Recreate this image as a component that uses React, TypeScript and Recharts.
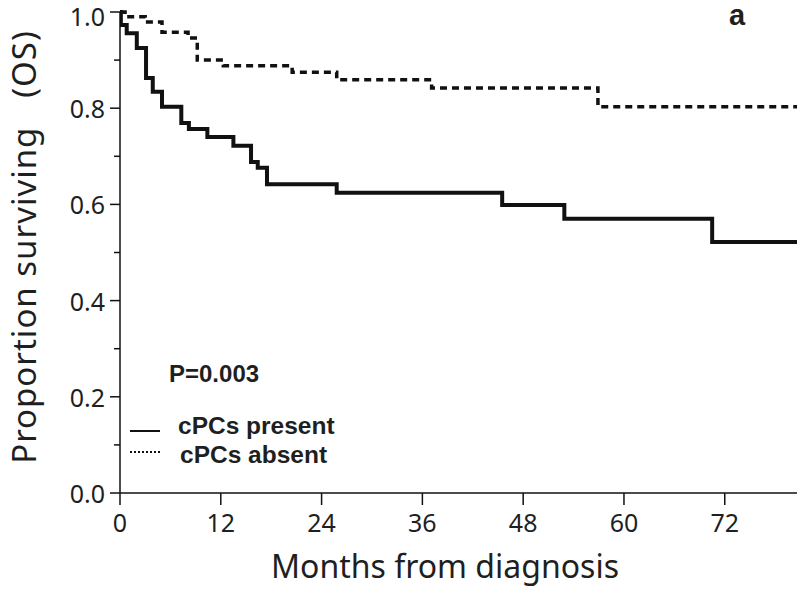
import { LineChart, Line, XAxis, YAxis } from "recharts";

// Kaplan-Meier steps (months, proportion surviving)
const presentMonths = [0, 0.1, 0.8, 2.0, 3.1, 3.9, 5.0, 7.3, 8.2, 10.4, 13.5, 15.6, 16.4, 17.5, 25.8, 45.5, 52.9, 70.5, 80.6];
const presentSurv = [1.0, 0.973, 0.956, 0.925, 0.863, 0.834, 0.803, 0.769, 0.757, 0.74, 0.722, 0.688, 0.676, 0.642, 0.624, 0.599, 0.57, 0.522, 0.522];

const absentMonths = [0, 0.6, 3.0, 5.0, 8.1, 9.2, 12.3, 20.5, 25.8, 37.1, 56.9, 80.6];
const absentSurv = [1.0, 0.99, 0.979, 0.958, 0.946, 0.9, 0.888, 0.875, 0.859, 0.842, 0.803, 0.803];

const xTicks = [0, 12, 24, 36, 48, 60, 72];
const yTicks = [0, 0.1, 0.2, 0.3, 0.4, 0.5, 0.6, 0.7, 0.8, 0.9, 1.0];

const FONT = "'Noto Sans', 'Open Sans', sans-serif";
const BOLD = "'Liberation Sans', Arial, sans-serif";
const INK = "#1f1f1f";

const toPoints = (t: number[], s: number[]) => t.map((m, i) => ({ t: m, s: s[i] }));
const present = toPoints(presentMonths, presentSurv);
const absent = toPoints(absentMonths, absentSurv);

function YTick(props: any) {
  const { x, y, payload } = props;
  const v = payload.value as number;
  const major = Math.round(v * 10) % 2 === 0;
  // top label sits at the very edge of the picture, nudge it in a little
  const ty = v >= 1 ? y + 4 : y;
  return (
    <g>
      <line x1={x - (major ? 10 : 6)} x2={x} y1={y} y2={y} stroke="#111" strokeWidth={1.5} />
      {major && (
        <text x={x - 15} y={ty} textAnchor="end" dominantBaseline="central" fontFamily={FONT} fontSize={25} fill={INK}>
          {v.toFixed(1)}
        </text>
      )}
    </g>
  );
}

export default function App() {
  return (
    <div style={{ position: "absolute", left: 0, top: 0, width: 800, height: 593, background: "#fff" }}>
      <LineChart
        width={800}
        height={593}
        margin={{ top: 12, right: 3, left: 0, bottom: 0 }}
      >
        <XAxis
          type="number"
          dataKey="t"
          domain={[0, 80.6]}
          ticks={xTicks}
          height={100}
          allowDataOverflow
          stroke="#111"
          strokeWidth={1.5}
          tickSize={12}
          tickMargin={9}
          tick={{ fontFamily: FONT, fontSize: 25, fill: INK }}
        />
        <YAxis
          type="number"
          dataKey="s"
          domain={[0, 1]}
          ticks={yTicks}
          width={120}
          stroke="#111"
          strokeWidth={1.5}
          tickLine={false}
          tickSize={0}
          tickMargin={0}
          tick={<YTick />}
          interval={0}
        />
        <Line
          data={present}
          dataKey="s"
          type="stepAfter"
          stroke="#111"
          strokeWidth={4}
          dot={false}
          isAnimationActive={false}
        />
        <Line
          data={absent}
          dataKey="s"
          type="stepAfter"
          stroke="#111"
          strokeWidth={3.5}
          strokeDasharray="7 5"
          dot={false}
          isAnimationActive={false}
        />
      </LineChart>

      <div style={{ position: "absolute", left: 0, top: 0, width: 800, height: 593, pointerEvents: "none", color: INK }}>
        <div
          style={{
            position: "absolute",
            left: 23,
            top: 247,
            transform: "translate(-50%, -50%) rotate(-90deg)",
            whiteSpace: "nowrap",
            fontFamily: FONT,
            fontSize: 33,
            letterSpacing: 1,
            lineHeight: 1,
          }}
        >
          Proportion surviving&nbsp;&nbsp;&nbsp;(OS)
        </div>
        <div
          style={{
            position: "absolute",
            left: 445,
            top: 566,
            transform: "translate(-50%, -50%)",
            whiteSpace: "nowrap",
            fontFamily: FONT,
            fontSize: 32,
            lineHeight: 1,
          }}
        >
          Months from diagnosis
        </div>
        <div style={{ position: "absolute", left: 729, top: 1, fontFamily: BOLD, fontWeight: "bold", fontSize: 29, lineHeight: 1 }}>
          a
        </div>
        <div style={{ position: "absolute", left: 169, top: 362, fontFamily: BOLD, fontWeight: "bold", fontSize: 24, lineHeight: 1 }}>
          P=0.003
        </div>
        <svg style={{ position: "absolute", left: 128, top: 418 }} width={36} height={48}>
          <line x1={2} x2={32} y1={13} y2={13} stroke="#111" strokeWidth={2} />
          <line x1={2} x2={32} y1={34} y2={34} stroke="#111" strokeWidth={2} strokeDasharray="2 2" />
        </svg>
        <div style={{ position: "absolute", left: 178, top: 414, fontFamily: BOLD, fontWeight: "bold", fontSize: 24.5, lineHeight: 1 }}>
          cPCs present
        </div>
        <div style={{ position: "absolute", left: 180, top: 443, fontFamily: BOLD, fontWeight: "bold", fontSize: 24.5, lineHeight: 1 }}>
          cPCs absent
        </div>
      </div>
    </div>
  );
}
